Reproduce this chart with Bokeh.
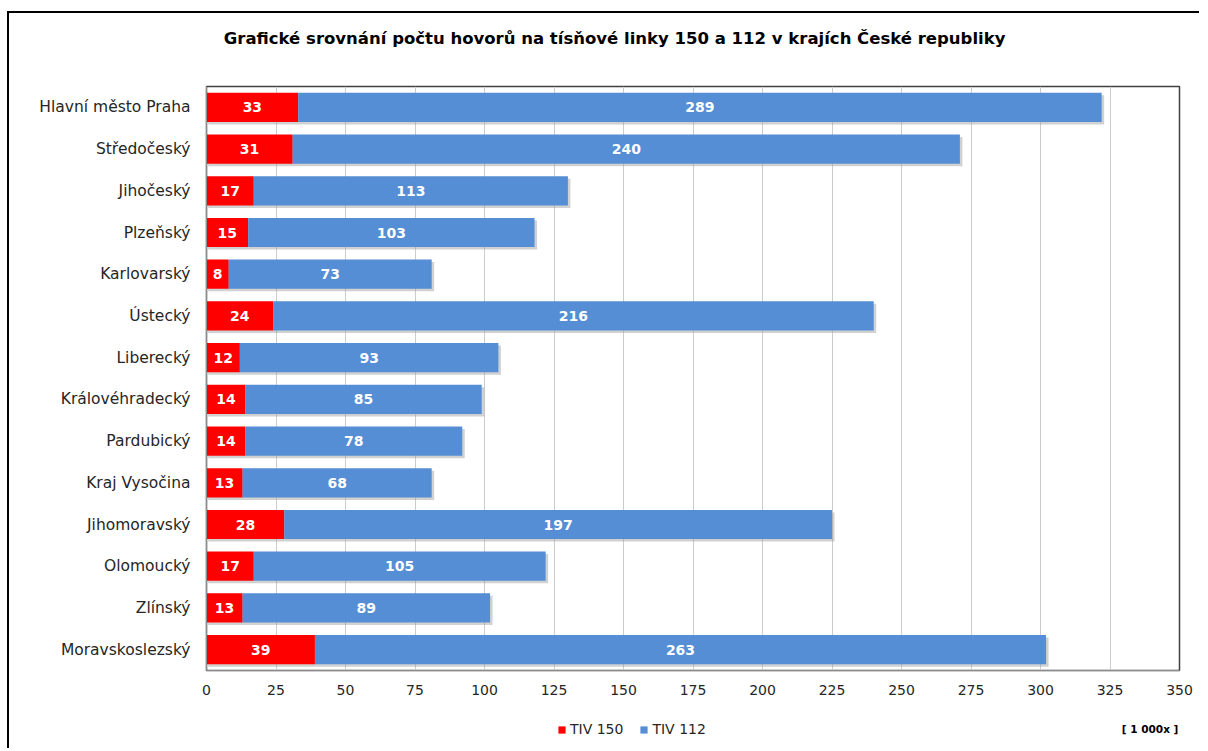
from bokeh.plotting import figure
from bokeh.layouts import column
from bokeh.models import (ColumnDataSource, Legend, LegendItem, Label,
                          FixedTicker, Range1d, FactorRange)
from bokeh.core.properties import value
from bokeh.transform import dodge
from bokeh.embed import file_html
from bokeh.resources import INLINE

regions = ["Hlavní město Praha", "Středočeský", "Jihočeský", "Plzeňský", "Karlovarský",
           "Ústecký", "Liberecký", "Královéhradecký", "Pardubický", "Kraj Vysočina",
           "Jihomoravský", "Olomoucký", "Zlínský", "Moravskoslezský"]
tiv150 = [33, 31, 17, 15, 8, 24, 12, 14, 14, 13, 28, 17, 13, 39]
tiv112 = [289, 240, 113, 103, 73, 216, 93, 85, 78, 68, 197, 105, 89, 263]
x_ticks = [0, 25, 50, 75, 100, 125, 150, 175, 200, 225, 250, 275, 300, 325, 350]
series_names = ["TIV 150", "TIV 112"]
title_text = "Grafické srovnání počtu hovorů na tísňové linky 150 a 112 v krajích České republiky"
unit_text = "[ 1 000x ]"

FONT = "DejaVu Sans"
RED = "#ff0000"
BLUE = "#558ed5"
TXT = "#262626"
AXIS = "#8c8c8c"

W = 1190           # width of each figure
H_HEAD, H_MAIN, H_FOOT = 55, 637, 43

totals = [a + b for a, b in zip(tiv150, tiv112)]
src = ColumnDataSource(dict(
    region=regions,
    t150=tiv150,
    t112=tiv112,
    total=totals,
    shadow_end=[t + 0.9 for t in totals],
    mid150=[a / 2 for a in tiv150],
    mid112=[a + b / 2 for a, b in zip(tiv150, tiv112)],
    lab150=[str(v) for v in tiv150],
    lab112=[str(v) for v in tiv112],
))

x_range = Range1d(0, 350)   # shared: the column aligns all frames with the main one


def bare(fig):
    fig.min_border_left = fig.min_border_right = 0
    fig.min_border_top = fig.min_border_bottom = 0
    fig.outline_line_color = None
    fig.grid.visible = False
    return fig


# ---------------- header (title) ----------------
head = bare(figure(width=W, height=H_HEAD, x_range=x_range, y_range=Range1d(0, H_HEAD),
                   x_axis_location=None, y_axis_location=None,
                   output_backend="svg", toolbar_location=None))
head.add_layout(Label(x=146.8, y=H_HEAD - 25, text=title_text, text_align="center",
                      text_baseline="middle", text_font=FONT, text_font_style="bold",
                      text_font_size="16.5px", text_color="#000000"))

# ---------------- main chart ----------------
p = figure(width=W, height=H_MAIN,
           y_range=FactorRange(*reversed(regions)),
           x_range=x_range,
           output_backend="svg", toolbar_location=None,
           min_border_left=197, min_border_right=20,
           min_border_top=18, min_border_bottom=35)

# soft drop shadow under the stacked bars
p.hbar(y=dodge("region", -0.06, range=p.y_range), left=0.6, right="shadow_end",
       height=0.7, source=src, fill_color="#9a9a9a", fill_alpha=0.45, line_color=None)

r150 = p.hbar(y="region", left=0, right="t150", height=0.7, source=src,
              fill_color=RED, line_color=None)
r112 = p.hbar(y="region", left="t150", right="total", height=0.7, source=src,
              fill_color=BLUE, line_color=None)

p.text(x="mid150", y="region", text="lab150", source=src, text_align="center",
       text_baseline="middle", text_color="white", text_font=value(FONT),
       text_font_style="bold", text_font_size="14px")
p.text(x="mid112", y="region", text="lab112", source=src, text_align="center",
       text_baseline="middle", text_color="white", text_font=value(FONT),
       text_font_style="bold", text_font_size="14px")

# x axis
xa = p.xaxis[0]
xa.ticker = FixedTicker(ticks=x_ticks)
xa.major_label_text_font = FONT
xa.major_label_text_font_size = "14px"
xa.major_label_text_color = TXT
xa.axis_line_color = AXIS
xa.major_tick_line_color = None
xa.minor_tick_line_color = None
xa.major_label_standoff = 8

# y axis (categories)
ya = p.yaxis[0]
ya.axis_line_color = AXIS
ya.major_tick_line_color = None
ya.major_tick_in = 0
ya.major_tick_out = 0
ya.major_label_text_font = FONT
ya.major_label_text_font_size = "15.5px"
ya.major_label_text_color = TXT
ya.major_label_standoff = 16

p.xgrid.grid_line_color = "#cccccc"
p.xgrid.ticker = FixedTicker(ticks=x_ticks)
p.ygrid.grid_line_color = None
p.outline_line_color = "#404040"
p.outline_line_width = 1.5

# ---------------- footer (legend + unit) ----------------
foot = bare(figure(width=W, height=H_FOOT, x_range=x_range, y_range=Range1d(0, H_FOOT),
                   x_axis_location=None, y_axis_location=None,
                   output_backend="svg", toolbar_location=None))
# zero-size proxies that only carry the legend swatch styles
k150 = foot.hbar(y=[0], left=[0], right=[0], height=0, fill_color=RED, line_color=None)
k112 = foot.hbar(y=[0], left=[0], right=[0], height=0, fill_color=BLUE, line_color=None)
legend = Legend(items=[LegendItem(label=series_names[0], renderers=[k150]),
                       LegendItem(label=series_names[1], renderers=[k112])],
                orientation="horizontal", location=(351, 11),
                glyph_width=9, glyph_height=9, label_standoff=4, spacing=16,
                padding=0, margin=0, border_line_color=None, background_fill_alpha=0,
                label_text_font=FONT, label_text_font_size="14px", label_text_color=TXT)
foot.add_layout(legend, "center")
foot.add_layout(Label(x=349.6, y=20, text=unit_text, text_align="right",
                      text_baseline="middle", text_font=FONT, text_font_style="bold",
                      text_font_size="10.5px", text_color="#000000"))

layout = column(head, p, foot, spacing=0,
                styles={"border-left": "2px solid #000000", "border-top": "2px solid #000000",
                        "margin-left": "7px", "margin-top": "11px"})

open("out.html", "w").write(file_html(layout, INLINE))
